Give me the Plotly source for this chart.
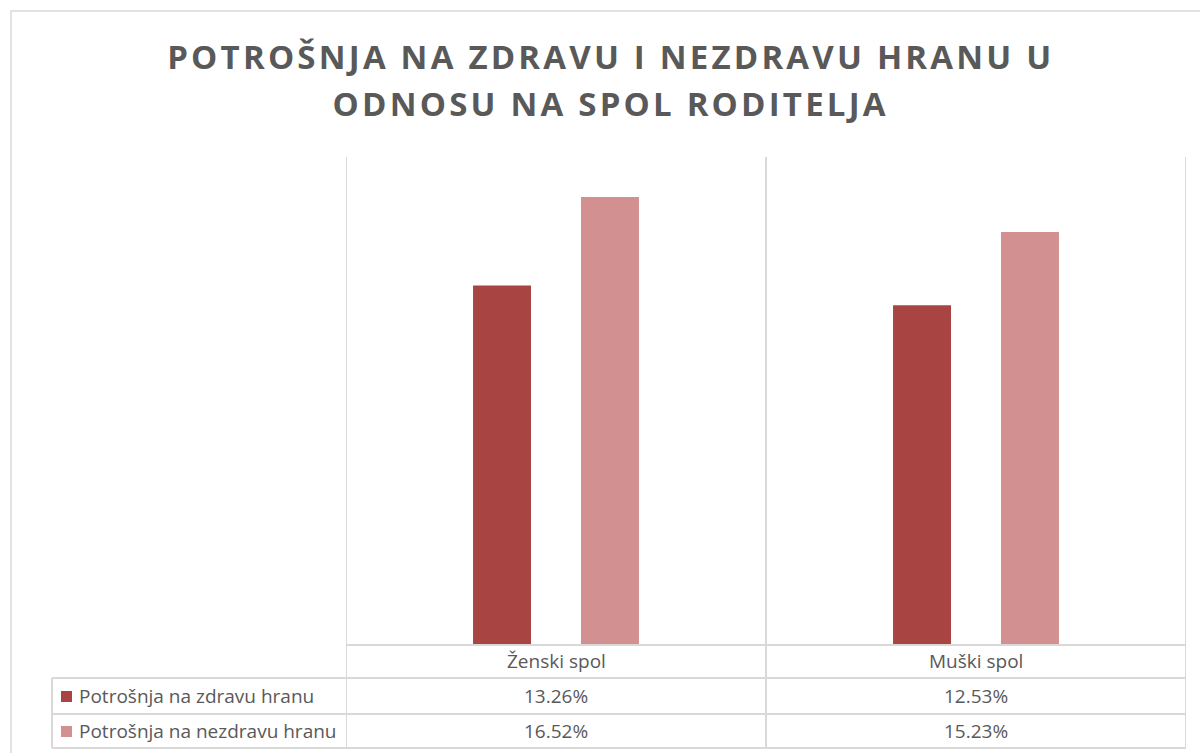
import plotly.graph_objects as go

categories = ["Ženski spol", "Muški spol"]
series_names = ["Potrošnja na zdravu hranu", "Potrošnja na nezdravu hranu"]
zdrava = [13.26, 12.53]
nezdrava = [16.52, 15.23]
colors = ["#A84442", "#D39090"]
title_lines = ["POTROŠNJA NA ZDRAVU I NEZDRAVU HRANU U", "ODNOSU NA SPOL RODITELJA"]

W, H = 1200, 753
TXT = "#595959"
LINE = "#D9D9D9"
FONT = "Open Sans"

def px(x):
    return x / W

def py(y):
    return 1 - y / H

fig = go.Figure()
for name, vals, col in zip(series_names, [zdrava, nezdrava], colors):
    fig.add_trace(go.Bar(x=categories, y=vals, name=name, marker=dict(color=col, line=dict(width=0)),
                         hoverinfo="skip"))

shapes = []
# outer chart border
shapes.append(dict(type="rect", xref="paper", yref="paper", x0=px(11), x1=px(1215), y0=py(770), y1=py(11),
                   line=dict(color=LINE, width=1.5), layer="below"))
# category separators (plot area + table columns)
for xv in [-0.5, 0.5, 1.5]:
    shapes.append(dict(type="line", xref="x", yref="paper", x0=xv, x1=xv, y0=py(748), y1=py(157),
                       line=dict(color=LINE, width=2)))
# horizontal table lines
shapes.append(dict(type="line", xref="x", yref="paper", x0=-0.5, x1=1.5, y0=py(645), y1=py(645),
                   line=dict(color=LINE, width=2)))
for yv in [678, 714, 748]:
    shapes.append(dict(type="line", xref="paper", yref="paper", x0=px(52), x1=px(1186), y0=py(yv), y1=py(yv),
                       line=dict(color=LINE, width=2)))
shapes.append(dict(type="line", xref="paper", yref="paper", x0=px(52), x1=px(52), y0=py(748), y1=py(678),
                   line=dict(color=LINE, width=2)))

annotations = []
for k, (line_text, yc) in enumerate(zip(title_lines, [56, 104])):
    annotations.append(dict(text=line_text, xref="paper", yref="paper", x=px(611), y=py(yc),
                            xanchor="center", yanchor="middle", showarrow=False,
                            font=dict(family=FONT, size=33, color=TXT, weight=700)))
for i, c in enumerate(categories):
    annotations.append(dict(text=c, xref="x", yref="paper", x=i, y=py(661), xanchor="center", yanchor="middle",
                            showarrow=False, font=dict(family=FONT, size=19, color=TXT)))
row_y = [696, 731]
for r, (name, vals, col) in enumerate(zip(series_names, [zdrava, nezdrava], colors)):
    yc = row_y[r]
    shapes.append(dict(type="rect", xref="paper", yref="paper", x0=px(61), x1=px(72), y0=py(yc + 6), y1=py(yc - 5),
                       fillcolor=col, line=dict(width=0)))
    annotations.append(dict(text=name, xref="paper", yref="paper", x=px(77), y=py(yc), xanchor="left",
                            yanchor="middle", showarrow=False, font=dict(family=FONT, size=19, color=TXT)))
    for i, v in enumerate(vals):
        annotations.append(dict(text=f"{v:.2f}%", xref="x", yref="paper", x=i, y=py(yc), xanchor="center",
                                yanchor="middle", showarrow=False, font=dict(family=FONT, size=19, color=TXT)))

fig.update_layout(
    width=W, height=H,
    margin=dict(l=0, r=0, t=0, b=0),
    paper_bgcolor="white", plot_bgcolor="white",
    barmode="group", bargap=0.486, bargroupgap=0.463,
    showlegend=False,
    xaxis=dict(domain=[px(346), px(1186)], showticklabels=False, showgrid=False, zeroline=False,
               showline=False, ticks="", range=[-0.5, 1.5]),
    yaxis=dict(domain=[py(645), py(157)], range=[0, 18], showticklabels=False, showgrid=False,
               zeroline=False, showline=False, ticks=""),
    shapes=shapes, annotations=annotations,
)

post = """
document.body.style.margin = '0';
document.body.style.overflow = 'hidden';
var gd = document.getElementById('{plot_id}');
['0', '1'].forEach(function (i) {
  var t = gd.querySelector('.annotation[data-index="' + i + '"] text');
  if (t) { t.style.letterSpacing = '3.2px'; }
});
"""

fig.write_html("out.html", post_script=post, config={"displayModeBar": False})
